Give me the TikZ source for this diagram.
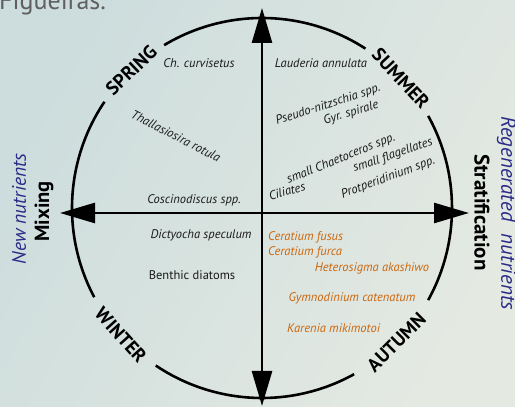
\documentclass[tikz,border=0pt]{standalone}
\usepackage{fontspec}
\setmainfont{PT Sans}
\usetikzlibrary{arrows.meta}
\definecolor{bgcyan}{RGB}{205,221,221}
\definecolor{bggreen}{RGB}{228,233,226}
\definecolor{nutrientblue}{RGB}{42,42,135}
\definecolor{hab}{RGB}{204,102,12}
\definecolor{captiongray}{RGB}{95,95,95}

\tikzset{
  ring/.style={line width=2.6pt},
  axisline/.style={line width=2.6pt, {Triangle[length=35pt,width=20pt]}-{Triangle[length=35pt,width=20pt]}},
  season/.style={font=\fontsize{19}{21}\selectfont\bfseries},
  driver/.style={font=\fontsize{20.5}{23}\selectfont\bfseries},
  nutrients/.style={font=\fontsize{19.5}{22}\selectfont\itshape, color=nutrientblue},
  species/.style={font=\fontsize{12.5}{14}\selectfont\itshape, color=black!90, inner sep=0pt},
  bloom/.style={species, color=hab}
}

\begin{document}
\begin{tikzpicture}[x=1pt, y=1pt]

    % constants
    \def\rad{190}

    % background
    \clip (0,0) rectangle (515,407);
    \shade[left color=bgcyan, right color=bggreen, shading angle=60] (0,0) rectangle (515,407);
    \node [anchor=base west, inner sep=0pt, color=captiongray, font=\fontsize{26}{28}\selectfont] (caption) at (-1,397) {Figueiras.};

    % centre and axis ends
    \coordinate (c) at (262,199);
    \coordinate (top) at (262,399);
    \coordinate (bottom) at (262,1);
    \coordinate (left) at (60,194);
    \coordinate (right) at (469,194);

    % seasonal cycle, with gaps for the season names
    \foreach \a/\b in {-29/29, 57/121, 146/208, 236/299}
        \draw[ring] ([shift={(\a:\rad)}]c) arc[start angle=\a, end angle=\b, radius=\rad];

    \node [season, rotate=43.5] (spring) at ([shift={(133.5:\rad)}]c) {SPRING};
    \node [season, rotate=-47] (summer) at ([shift={(43:\rad)}]c) {SUMMER};
    \node [season, rotate=-48] (winter) at ([shift={(222:\rad)}]c) {WINTER};
    \node [season, rotate=45] (autumn) at ([shift={(-45:\rad)}]c) {AUTUMN};

    % axes
    \draw[axisline] (bottom) -- (top);
    \draw[axisline] (left) -- (right);

    % drivers
    \node [driver, rotate=90] (mixing) at (44,195.5) {Mixing};
    \node [nutrients, rotate=90] (newnut) at (19,198) {New nutrients};
    \node [driver, rotate=-90, font=\fontsize{21}{23}\selectfont\bfseries] (strat) at (482,194.5) {Stratification};
    \node [nutrients, rotate=-90, font=\fontsize{21}{23}\selectfont\itshape] (regnut) at (506.5,194) {Regenerated\hspace{0.3em} nutrients};

    % spring species
    \node [species] (chc) at (199,344) {Ch. curvisetus};
    \node [species, rotate=-27] (thr) at (176,271) {Thallasiosira rotula};
    \node [species] (cos) at (194,207) {Coscinodiscus spp.};

    % summer species
    \node [species] (lau) at (321,344) {Lauderia annulata};
    \node [species, rotate=18] (pse) at (328,302) {Pseudo-nitzschia spp.};
    \node [species, rotate=17] (gyr) at (351,294) {Gyr. spirale};
    \node [species, rotate=22] (sch) at (341,248) {small Chaetoceros spp.};
    \node [species, rotate=19] (sfl) at (393,251.5) {small flagellates};
    \node [species, rotate=20.5] (pro) at (388,229) {Protperidinium spp.};
    \node [species, rotate=15.5] (cil) at (287,216) {Ciliates};

    % winter species
    \node [species] (dic) at (201,172) {Dictyocha speculum};
    \node [species, font=\fontsize{12.5}{14}\selectfont] (ben) at (192,132) {Benthic diatoms};

    % autumn species
    \node [bloom, anchor=west] (cfu) at (268,170) {Ceratium fusus};
    \node [bloom, anchor=west] (cfc) at (268,155) {Ceratium furca};
    \node [bloom] (het) at (372,139) {Heterosigma akashiwo};
    \node [bloom] (gym) at (352,109) {Gymnodinium catenatum};
    \node [bloom, anchor=west] (kar) at (287,79) {Karenia mikimotoi};

\end{tikzpicture}
\end{document}
